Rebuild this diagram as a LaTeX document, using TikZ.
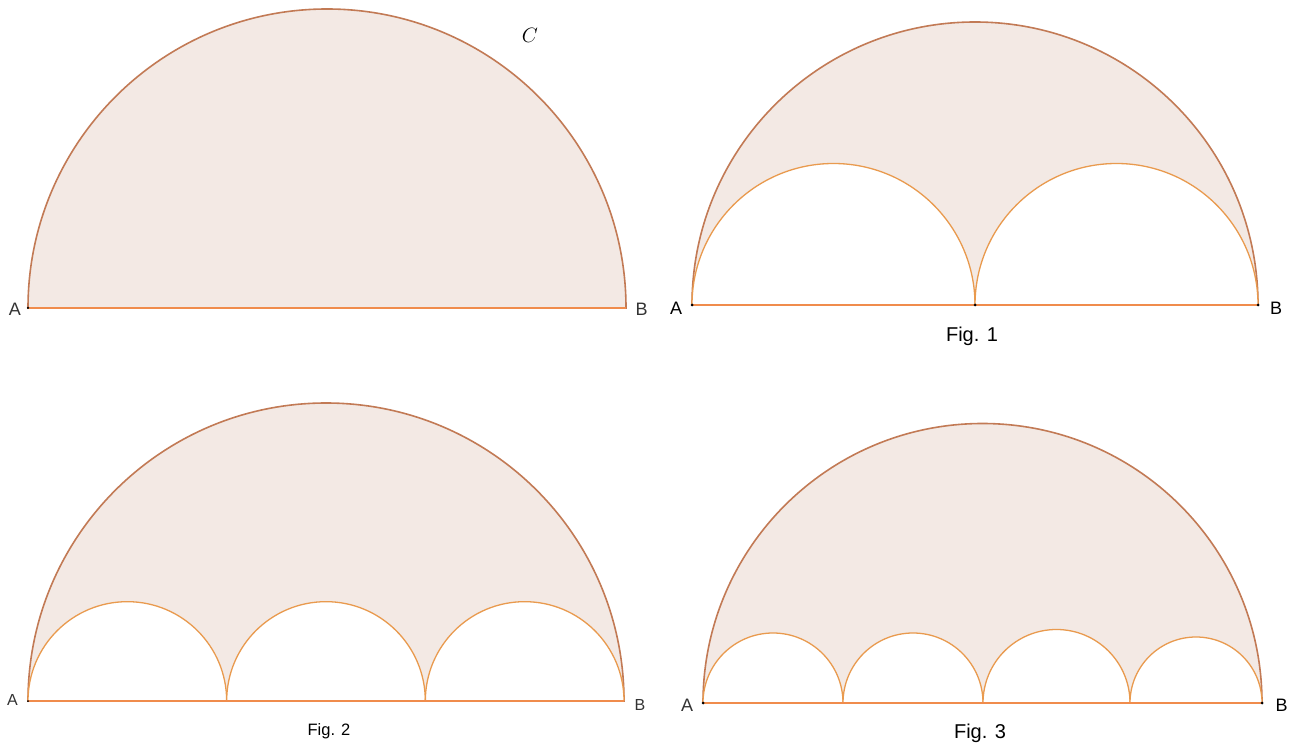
\documentclass[tikz,border=0pt]{standalone}
\usepackage{fontspec}
\setmainfont{Liberation Sans}
\definecolor{fillc}{HTML}{F3E9E4}
\definecolor{outerc}{HTML}{C27A55}
\definecolor{innerc}{HTML}{E99A4E}
\definecolor{basec}{HTML}{F08C4C}
\definecolor{labc}{HTML}{333333}
\begin{document}
\begin{tikzpicture}[x=1pt,y=1pt,
  outer/.style={draw=outerc,line width=1.6pt,fill=fillc},
  inner/.style={draw=innerc,line width=1.3pt,fill=white},
  base/.style={draw=basec,line width=1.5pt},
  lbl/.style={font=\fontsize{18}{18}\selectfont,inner sep=0pt,text=labc},
  figl/.style={font=\fontsize{20}{20}\selectfont,inner sep=0pt},
  pt/.style={fill=black,circle,inner sep=0pt,minimum size=3pt}]
\useasboundingbox (0,0) rectangle (1295,745);
% ---------- Panel 1 ----------
\coordinate (A1) at (28,437);
\coordinate (B1) at (626,437);
\path[outer] (A1) arc[start angle=180,end angle=0,radius=299] -- cycle;
\draw[base] (A1) -- (B1);
\node[pt,minimum size=2.5pt] at (A1) {};
\node[lbl] (lA1) at (15,435.5) {A};
\node[lbl] (lB1) at (641.5,435.5) {B};
\node[inner sep=0pt,font=\fontsize{21}{21}\selectfont] (lC) at (530,710) {$C$};
% ---------- Panel 2 (Fig. 1) ----------
\coordinate (A2) at (692,440);
\coordinate (M2) at (975,440);
\coordinate (B2) at (1258,440);
\path[outer] (A2) arc[start angle=180,end angle=0,radius=283] -- cycle;
\path[inner] (A2) arc[start angle=180,end angle=0,radius=141.5];
\path[inner] (M2) arc[start angle=180,end angle=0,radius=141.5];
\draw[base] (A2) -- (B2);
\node[pt] (pA2) at (A2) {};
\node[pt] (pM2) at (M2) {};
\node[pt] (pB2) at (B2) {};
\node[lbl,text=black] (lA2) at (676,436.5) {A};
\node[lbl,text=black] (lB2) at (1276,436.5) {B};
\node[figl] (f1) at (972,409) {Fig. 1};
% ---------- Panel 3 (Fig. 2) ----------
\coordinate (A3) at (28,44);
\coordinate (P31) at (226.667,44);
\coordinate (P32) at (425.333,44);
\coordinate (B3) at (624,44);
\path[outer] (A3) arc[start angle=180,end angle=0,radius=298] -- cycle;
\path[inner] (A3) arc[start angle=180,end angle=0,radius=99.333];
\path[inner] (P31) arc[start angle=180,end angle=0,radius=99.333];
\path[inner] (P32) arc[start angle=180,end angle=0,radius=99.333];
\draw[base] (A3) -- (B3);
\node[pt,minimum size=2pt] (pA3) at (A3) {};
\node[lbl,font=\fontsize{16}{16}\selectfont] (lA3) at (12.5,45.5) {A};
\node[lbl,font=\fontsize{16}{16}\selectfont] (lB3) at (640,40.5) {B};
\node[inner sep=0pt,font=\fontsize{16.5}{16.5}\selectfont] (f2) at (329,14) {Fig. 2};
% ---------- Panel 4 (Fig. 3) ----------
\coordinate (A4) at (703,42);
\coordinate (P41) at (843,42);
\coordinate (P42) at (983,42);
\coordinate (P43) at (1130,42);
\coordinate (B4) at (1262,42);
\path[outer] (A4) arc[start angle=180,end angle=0,radius=279.5] -- cycle;
\path[inner] (A4) arc[start angle=180,end angle=0,radius=70];
\path[inner] (P41) arc[start angle=180,end angle=0,radius=70];
\path[inner] (P42) arc[start angle=180,end angle=0,radius=73.5];
\path[inner] (P43) arc[start angle=180,end angle=0,radius=66];
\draw[base] (A4) -- (B4);
\node[pt] (pA4) at (A4) {};
\node[pt] (pB4) at (B4) {};
\node[lbl] (lA4) at (687,40) {A};
\node[lbl,text=black] (lB4) at (1281.5,40) {B};
\node[figl] (f3) at (980,12) {Fig. 3};
\end{tikzpicture}
\end{document}
